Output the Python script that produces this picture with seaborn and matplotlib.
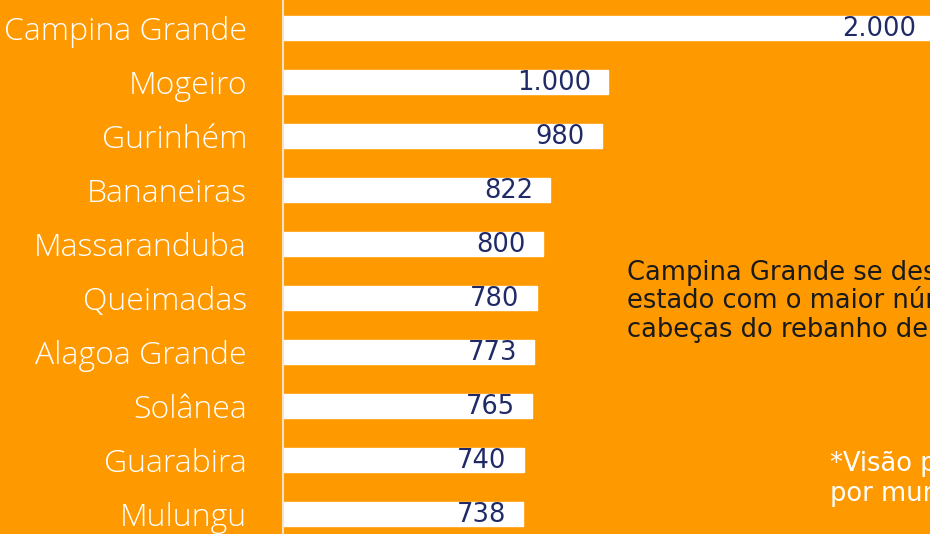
import matplotlib
matplotlib.use("Agg")
import matplotlib.pyplot as plt
import seaborn as sns
import pandas as pd

municipios = ["Campina Grande", "Mogeiro", "Gurinhém", "Bananeiras", "Massaranduba",
              "Queimadas", "Alagoa Grande", "Solânea", "Guarabira", "Mulungu"]
cabecas = [2000, 1000, 980, 822, 800, 780, 773, 765, 740, 738]
rotulos = ["2.000", "1.000", "980", "822", "800", "780", "773", "765", "740", "738"]

nota_principal = "Campina Grande se destaca no\nestado com o maior número de\ncabeças do rebanho de caprinos"
nota_rodape = "*Visão parcial\npor município"

ORANGE = "#FF9900"
NAVY = "#1F2A66"

sns.set_theme(style="white")
df = pd.DataFrame({"municipio": municipios, "cabecas": cabecas})

W, H = 930, 534
fig = plt.figure(figsize=(W / 100, H / 100), dpi=100, facecolor=ORANGE)
left_px = 283
ax = fig.add_axes([left_px / W, 0, (W - left_px) / W, 1])
ax.set_facecolor(ORANGE)

sns.barplot(data=df, x="cabecas", y="municipio", orient="h", color="white",
            saturation=1, width=0.45, ax=ax)

px_per_unit = 0.325
ax.set_xlim(0, (W - left_px) / px_per_unit)
ax.set_ylim(9.37, -0.52)

for i, (v, lab) in enumerate(zip(cabecas, rotulos)):
    ax.annotate(lab, xy=(v, i), xytext=(-17, -1), textcoords="offset pixels",
                ha="right", va="center", color=NAVY, fontsize=18.5,
                family="DejaVu Sans", annotation_clip=False)

ax.set_xlabel("")
ax.set_ylabel("")
ax.set_xticks([])
ax.tick_params(axis="y", length=0, pad=26)
for t in ax.get_yticklabels():
    t.set_color("white")
    t.set_fontsize(23)
    t.set_family("Open Sans")
    t.set_fontweight("light")

for s in ["top", "right", "bottom"]:
    ax.spines[s].set_visible(False)
ax.spines["left"].set_color("#F7E3C4")
ax.spines["left"].set_linewidth(1.5)

fig.text(627 / W, 1 - 260 / H, nota_principal, ha="left", va="top",
         color="#1A1A1A", fontsize=18.5, family="DejaVu Sans", linespacing=1.12)
fig.text(830 / W, 1 - 451 / H, nota_rodape, ha="left", va="top",
         color="white", fontsize=18.5, family="DejaVu Sans", linespacing=1.12)

fig.savefig("out.png", dpi=100, facecolor=ORANGE)
